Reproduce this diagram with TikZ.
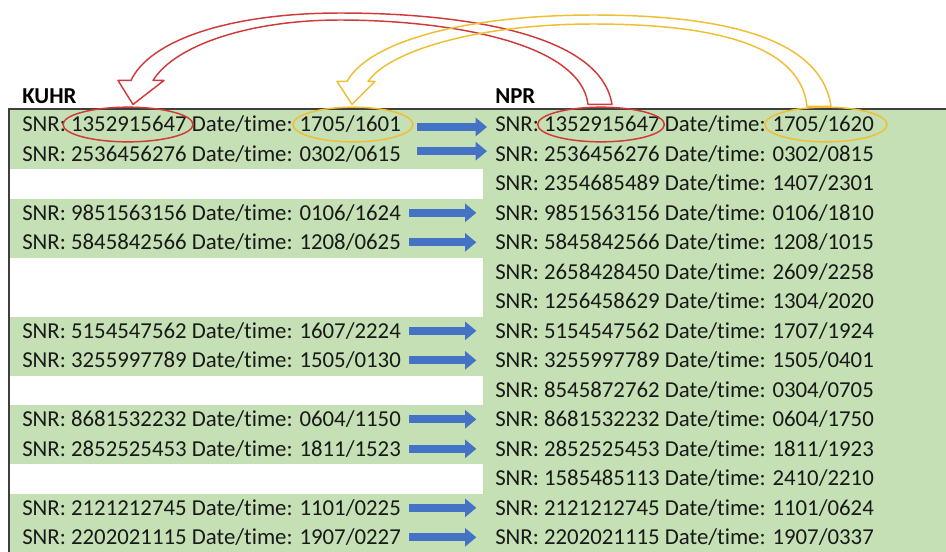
\documentclass[tikz,border=0pt]{standalone}
\usepackage{fontspec}
\setmainfont[Ligatures=NoCommon]{Carlito}
\usepackage{xcolor}
\usepackage{tikz}
\usetikzlibrary{positioning,shapes.geometric,arrows.meta,calc}

\definecolor{rowgreen}{HTML}{C5E0B4}
\definecolor{arrowblue}{HTML}{4472C4}
\definecolor{markred}{HTML}{D03A3A}
\definecolor{markgold}{HTML}{F0BE32}
\definecolor{framegray}{HTML}{3F3F3F}

\tikzset{
  entry/.style={anchor=base west,inner sep=0pt,font=\fontsize{17.1}{20}\selectfont,text=black!90},
  title/.style={anchor=base west,inner sep=0pt,font=\fontsize{17.1}{20}\selectfont\bfseries},
  ring/.style={ellipse,draw,line width=1.1pt,minimum height=26pt,inner sep=0pt},
  flow/.style={arrowblue,line width=6pt,-{Triangle[length=8.5pt,width=13.5pt]}},
  bend/.style={draw=#1,line width=1.1pt,line join=round}
}

\begin{document}
\begin{tikzpicture}[x=0.75pt,y=-0.75pt]
    \useasboundingbox (0,0) rectangle (946,551);
    \fill[rowgreen] (483,110) rectangle (946,553);
    \foreach \a/\b in {1/2,4/5,8/9,11/12,14/15}
        \fill[rowgreen] (10,{110+29.5*(\a-1)}) rectangle (483,{110+29.5*\b});
    \draw[framegray,line width=1.5pt] (9,553) -- (9,109) -- (946,109);

    \node [title] (kuhr) at (22,103) {KUHR};
    \node [title] (npr) at (495,103) {NPR};

    \foreach \r/\snr/\d/\t in {1/1352915647/1705/1601,2/2536456276/0302/0615,
        4/9851563156/0106/1624,5/5845842566/1208/0625,8/5154547562/1607/2224,
        9/3255997789/1505/0130,11/8681532232/0604/1150,12/2852525453/1811/1523,
        14/2121212745/1101/0225,15/2202021115/1907/0227}
        \node [entry] (k\r) at (22,{102.25+29.5*\r}) {SNR: \snr{} Date/time: \d/\t};

    \foreach \r/\snr/\d/\t in {1/1352915647/1705/1620,2/2536456276/0302/0815,
        3/2354685489/1407/2301,4/9851563156/0106/1810,5/5845842566/1208/1015,
        6/2658428450/2609/2258,7/1256458629/1304/2020,8/5154547562/1707/1924,
        9/3255997789/1505/0401,10/8545872762/0304/0705,11/8681532232/0604/1750,
        12/2852525453/1811/1923,13/1585485113/2410/2210,14/2121212745/1101/0624,
        15/2202021115/1907/0337}
        \node [entry] (n\r) at (495,{102.25+29.5*\r}) {SNR: \snr{} Date/time: \d/\t};

    \foreach \r/\a/\b/\c in {1/12/6/-2,2/12/6/2,4/6/14/0,5/6/14/0,8/6/14/0,9/6/14/0,
        11/6/14/0,12/6/14/0,14/6/14/0,15/6/14/0}
        \draw[flow] ([xshift=\a pt,yshift=\c pt]k\r.east) -- ([xshift=-\b pt,yshift=\c pt]n\r.west);

    \node [ring,draw=markred,minimum width=97.5pt] (ksnr) at (128,124.5) {};
    \node [ring,draw=markgold,minimum width=90pt] (kdt) at (353,124.5) {};
    \node [ring,draw=markred,minimum width=95pt] (nsnr) at (601,124.5) {};
    \node [ring,draw=markgold,minimum width=91.5pt] (ndt) at (826,124.5) {};

    \coordinate (redtip) at ($(ksnr.north)+(5,-2)$);
    \coordinate (redtail) at ($(nsnr.north)+(-1,-2)$);
    \coordinate (goldtip) at ($(kdt.north)+(-1,-2)$);
    \coordinate (goldtail) at ($(ndt.north)+(-7,0)$);

    \draw[bend=markred] ($(redtail)+(-12,0)$) .. controls (580,40) and (440,20) .. (340,20)
        .. controls (250,20) and (175,45) .. ($(redtip)+(20,-24)$) -- ($(redtip)+(31,-24)$)
        -- (redtip) -- ($(redtip)+(-15,-24)$) -- ($(redtip)+(-2,-24)$)
        .. controls (150,40) and (230,13) .. (340,13) .. controls (450,13) and (600,30) .. ($(redtail)+(12,0)$) -- cycle;
    \draw[bend=markgold] ($(goldtail)+(-12,0)$) .. controls (800,40) and (700,24) .. (593,24)
        .. controls (480,24) and (390,50) .. ($(goldtip)+(16,-23)$) -- ($(goldtip)+(23,-23)$)
        -- (goldtip) -- ($(goldtip)+(-15,-23)$) -- ($(goldtip)+(-5,-23)$)
        .. controls (370,40) and (470,15) .. (593,15) .. controls (700,15) and (820,30) .. ($(goldtail)+(12,0)$) -- cycle;
\end{tikzpicture}
\end{document}
